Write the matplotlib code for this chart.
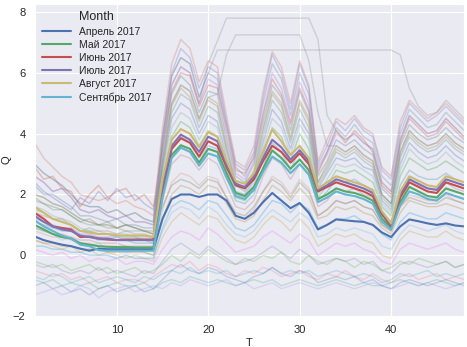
import matplotlib
matplotlib.use("Agg")
import matplotlib.pyplot as plt
import seaborn as sns

# half-hour index
T = list(range(1, 49))

# monthly mean profiles
apr = [0.62, 0.5, 0.42, 0.35, 0.3, 0.22, 0.15, 0.22, 0.2, 0.2, 0.2, 0.2, 0.2, 0.2, 1.2, 1.85, 2.0, 2.0, 1.92, 2.0, 2.0, 1.8, 1.3, 1.2,
       1.4, 1.75, 2.05, 1.8, 1.55, 1.72, 1.4, 0.85, 1.0, 1.18, 1.15, 1.12, 1.1, 1.0, 0.75, 0.6, 0.95, 1.18, 1.12, 1.05, 1.0, 1.05, 0.98, 0.95]
may = [1.0, 0.85, 0.7, 0.6, 0.55, 0.4, 0.35, 0.3, 0.28, 0.27, 0.27, 0.26, 0.26, 0.26, 2.0, 3.3, 3.62, 3.5, 3.05, 3.5, 3.4, 2.7, 2.05, 1.95,
       2.25, 2.85, 3.45, 3.2, 2.85, 3.15, 2.8, 1.85, 2.0, 2.2, 2.1, 2.05, 1.95, 1.8, 1.2, 0.9, 1.75, 2.25, 2.1, 1.95, 1.9, 2.2, 2.1, 2.0]
jun = [1.4, 1.2, 0.95, 0.9, 0.85, 0.6, 0.62, 0.55, 0.52, 0.5, 0.52, 0.52, 0.52, 0.52, 2.2, 3.5, 3.85, 3.7, 3.25, 3.75, 3.6, 2.9, 2.3, 2.2,
       2.5, 3.1, 3.6, 3.4, 3.05, 3.35, 3.0, 2.1, 2.25, 2.4, 2.3, 2.2, 2.1, 1.95, 1.35, 0.95, 1.9, 2.4, 2.25, 2.1, 2.05, 2.4, 2.3, 2.2]
jul = [1.3, 1.1, 0.95, 0.85, 0.8, 0.65, 0.6, 0.55, 0.55, 0.5, 0.5, 0.5, 0.5, 0.5, 2.3, 3.6, 3.97, 3.8, 3.4, 3.9, 3.75, 3.0, 2.35, 2.25,
       2.6, 3.2, 3.8, 3.55, 3.15, 3.45, 3.1, 2.15, 2.3, 2.5, 2.4, 2.3, 2.2, 2.05, 1.4, 1.0, 2.0, 2.5, 2.35, 2.2, 2.15, 2.5, 2.4, 2.3]
aug = [1.6, 1.4, 1.2, 1.1, 1.0, 0.8, 0.75, 0.7, 0.7, 0.65, 0.65, 0.65, 0.65, 0.6, 2.5, 3.8, 4.15, 4.0, 3.55, 4.05, 3.9, 3.1, 2.45, 2.35,
       2.7, 3.4, 4.13, 3.75, 3.3, 3.6, 3.2, 2.2, 2.4, 2.6, 2.5, 2.4, 2.3, 2.15, 1.45, 1.05, 2.1, 2.6, 2.45, 2.3, 2.25, 2.6, 2.5, 2.4]
sep = [1.15, 0.95, 0.8, 0.65, 0.55, 0.35, 0.3, 0.17, 0.15, 0.15, 0.15, 0.15, 0.15, 0.15, 1.9, 3.2, 3.54, 3.4, 2.95, 3.35, 3.25, 2.55, 1.95, 1.85,
       2.15, 2.75, 3.25, 3.05, 2.7, 3.0, 2.65, 1.75, 1.9, 2.1, 2.0, 1.95, 1.85, 1.7, 1.1, 0.85, 1.65, 2.1, 2.0, 1.85, 1.8, 2.05, 1.95, 1.85]

months = ["Апрель 2017", "Май 2017", "Июнь 2017", "Июль 2017", "Август 2017", "Сентябрь 2017"]
month_means = [apr, may, jun, jul, aug, sep]

# individual days, working days with a strong daytime load
high_days = [
    [3.7, 3.2, 2.9, 2.6, 2.4, 2.0, 1.9, 1.8, 1.9, 1.7, 1.8, 1.6, 1.5, 1.3, 4.2, 6.3, 7.1, 6.8, 5.7, 6.4, 6.2, 4.6, 3.1, 2.9,
     3.6, 5.4, 6.7, 6.2, 5.0, 6.4, 5.6, 3.1, 3.8, 4.5, 4.3, 4.6, 4.2, 4.0, 2.9, 2.6, 4.4, 5.1, 4.8, 4.5, 4.7, 5.0, 4.7, 4.4],
    [3.0, 2.7, 2.5, 2.3, 2.0, 1.7, 1.6, 1.6, 1.4, 1.5, 1.3, 1.4, 1.2, 1.1, 3.9, 5.9, 6.5, 6.3, 5.2, 6.0, 5.8, 4.3, 2.9, 2.6,
     3.3, 5.0, 6.3, 5.8, 4.6, 6.0, 5.3, 2.9, 3.4, 4.2, 3.9, 4.3, 3.9, 3.7, 2.6, 2.3, 4.0, 4.8, 4.5, 4.2, 4.3, 4.7, 4.4, 4.1],
    [2.6, 2.4, 2.1, 2.2, 1.9, 1.5, 1.4, 1.5, 1.3, 1.2, 1.3, 1.1, 1.1, 1.0, 3.6, 5.6, 6.2, 6.0, 5.0, 5.8, 5.6, 4.0, 2.7, 2.5,
     3.1, 4.7, 6.0, 5.5, 4.4, 5.7, 5.0, 2.8, 3.3, 4.0, 3.8, 4.0, 3.7, 3.5, 2.4, 2.1, 3.8, 4.6, 4.3, 4.0, 4.1, 4.5, 4.2, 3.9],
    [2.3, 2.0, 2.0, 1.8, 1.6, 1.3, 1.3, 1.2, 1.1, 1.2, 1.0, 1.0, 0.9, 0.9, 3.3, 5.3, 5.9, 5.6, 4.7, 5.4, 5.3, 3.8, 2.6, 2.4,
     3.0, 4.4, 5.6, 5.2, 4.1, 5.4, 4.7, 2.6, 3.1, 3.8, 3.6, 3.8, 3.5, 3.3, 2.2, 1.9, 3.6, 4.3, 4.0, 3.8, 3.9, 4.2, 3.9, 3.7],
    [2.0, 1.9, 1.7, 1.6, 1.4, 1.2, 1.1, 1.0, 1.0, 0.9, 1.0, 0.9, 0.8, 0.7, 3.1, 5.0, 5.6, 5.4, 4.5, 5.2, 5.0, 3.6, 2.4, 2.2,
     2.8, 4.2, 5.4, 5.0, 3.9, 5.1, 4.5, 2.4, 3.0, 3.6, 3.4, 3.6, 3.3, 3.1, 2.0, 1.7, 3.4, 4.1, 3.8, 3.6, 3.7, 4.0, 3.7, 3.5],
    [1.8, 1.7, 1.5, 1.5, 1.3, 1.1, 1.0, 1.0, 0.9, 0.9, 0.8, 0.8, 0.8, 0.7, 2.9, 4.7, 5.3, 5.1, 4.2, 4.9, 4.7, 3.4, 2.3, 2.1,
     2.6, 3.9, 5.1, 4.7, 3.7, 4.8, 4.2, 2.3, 2.8, 3.4, 3.2, 3.4, 3.1, 2.9, 1.9, 1.6, 3.2, 3.9, 3.6, 3.4, 3.5, 3.8, 3.5, 3.3],
    [2.4, 2.1, 1.9, 1.7, 1.5, 1.9, 1.7, 2.1, 1.8, 2.2, 1.9, 2.0, 1.7, 1.5, 2.8, 4.5, 5.0, 4.8, 4.0, 4.6, 4.4, 3.2, 2.1, 2.0,
     2.5, 3.7, 4.8, 4.4, 3.5, 4.5, 4.0, 2.2, 2.7, 3.2, 3.1, 3.2, 2.9, 2.8, 1.8, 1.5, 3.0, 3.7, 3.4, 3.2, 3.3, 3.6, 3.3, 3.1],
    [1.6, 1.5, 1.3, 1.2, 1.1, 0.9, 0.8, 0.8, 0.7, 0.7, 0.7, 0.6, 0.6, 0.6, 2.6, 4.2, 4.7, 4.5, 3.8, 4.4, 4.2, 3.0, 2.0, 1.9,
     2.4, 3.5, 4.5, 4.2, 3.3, 4.3, 3.8, 2.0, 2.5, 3.0, 2.9, 3.0, 2.8, 2.6, 1.7, 1.4, 2.8, 3.5, 3.2, 3.0, 3.1, 3.4, 3.1, 2.9],
    [1.5, 1.4, 1.2, 1.1, 1.0, 0.8, 0.8, 0.7, 0.7, 0.6, 0.6, 0.6, 0.5, 0.5, 2.4, 3.9, 4.4, 4.2, 3.6, 4.1, 3.9, 2.8, 1.9, 1.8,
     2.2, 3.3, 4.2, 3.9, 3.1, 4.0, 3.5, 1.9, 2.3, 2.8, 2.7, 2.8, 2.6, 2.4, 1.6, 1.3, 2.6, 3.2, 3.0, 2.8, 2.9, 3.1, 2.9, 2.7],
    [1.2, 1.1, 1.0, 0.9, 0.9, 0.7, 0.7, 0.6, 0.6, 0.6, 0.5, 0.5, 0.5, 0.4, 3.8, 6.0, 6.8, 6.5, 5.5, 6.2, 6.0, 4.4, 3.0, 2.8,
     3.4, 5.2, 6.6, 6.0, 4.8, 6.3, 5.5, 3.0, 3.6, 4.4, 4.1, 4.5, 4.1, 3.9, 2.8, 2.5, 4.2, 5.0, 4.7, 4.4, 4.6, 4.9, 4.6, 4.3],
    [2.9, 2.5, 2.6, 2.2, 2.1, 1.6, 2.0, 2.3, 1.9, 2.1, 2.2, 1.8, 2.0, 1.6, 3.5, 5.4, 6.0, 5.9, 4.9, 5.6, 5.5, 4.2, 2.8, 2.7,
     3.2, 4.6, 5.8, 5.3, 4.3, 5.5, 4.8, 2.7, 3.4, 4.1, 3.7, 4.1, 3.8, 3.4, 2.3, 2.0, 3.7, 4.5, 4.2, 3.9, 4.0, 4.4, 4.1, 3.8],
    [1.4, 1.3, 1.2, 1.2, 1.0, 0.8, 0.9, 0.8, 0.8, 0.7, 0.8, 0.7, 0.7, 0.6, 3.0, 4.9, 5.5, 5.2, 4.4, 5.1, 4.9, 3.5, 2.4, 2.2,
     2.7, 4.1, 5.3, 4.9, 3.8, 5.0, 4.4, 2.4, 2.9, 3.5, 3.3, 3.5, 3.2, 3.0, 2.0, 1.7, 3.3, 4.0, 3.7, 3.5, 3.6, 3.9, 3.6, 3.4],
]

mid_days = [
    [1.1, 1.0, 0.9, 0.8, 0.8, 0.6, 0.6, 0.5, 0.5, 0.5, 0.5, 0.4, 0.4, 0.4, 2.1, 3.5, 3.9, 3.7, 3.2, 3.6, 3.5, 2.6, 1.8, 1.7,
     2.0, 2.9, 3.7, 3.4, 2.8, 3.5, 3.1, 1.8, 2.1, 2.5, 2.4, 2.5, 2.3, 2.1, 1.4, 1.1, 2.3, 2.8, 2.6, 2.5, 2.5, 2.7, 2.5, 2.4],
    [0.9, 0.8, 0.7, 0.7, 0.6, 0.5, 0.5, 0.4, 0.4, 0.4, 0.3, 0.3, 0.3, 0.3, 1.8, 3.0, 3.3, 3.2, 2.8, 3.2, 3.0, 2.3, 1.6, 1.5,
     1.8, 2.6, 3.2, 3.0, 2.5, 3.0, 2.7, 1.6, 1.8, 2.2, 2.1, 2.2, 2.0, 1.9, 1.3, 1.0, 2.0, 2.5, 2.3, 2.2, 2.2, 2.4, 2.2, 2.1],
    [0.8, 0.7, 0.6, 0.6, 0.5, 0.4, 0.4, 0.3, 0.3, 0.3, 0.3, 0.2, 0.2, 0.2, 1.5, 2.4, 2.7, 2.6, 2.3, 2.6, 2.5, 1.9, 1.3, 1.2,
     1.5, 2.1, 2.6, 2.4, 2.0, 2.5, 2.2, 1.3, 1.5, 1.8, 1.7, 1.8, 1.6, 1.5, 1.0, 0.8, 1.6, 2.0, 1.9, 1.8, 1.8, 2.0, 1.8, 1.7],
    [0.5, 0.4, 0.4, 0.3, 0.3, 0.2, 0.2, 0.2, 0.1, 0.1, 0.1, 0.1, 0.1, 0.0, 1.2, 2.0, 2.3, 2.2, 2.0, 2.3, 2.2, 1.7, 1.2, 1.1,
     1.3, 1.8, 2.3, 2.1, 1.8, 2.2, 1.9, 1.2, 1.3, 1.6, 1.5, 1.6, 1.4, 1.3, 0.9, 0.7, 1.4, 1.8, 1.7, 1.6, 1.6, 1.7, 1.6, 1.5],
    [0.3, 0.3, 0.2, 0.2, 0.1, 0.1, 0.0, 0.0, 0.0, -0.1, 0.0, -0.1, -0.1, -0.1, 0.9, 1.6, 1.8, 1.7, 1.5, 1.8, 1.7, 1.3, 0.9, 0.8,
     1.0, 1.4, 1.8, 1.7, 1.4, 1.7, 1.5, 0.9, 1.0, 1.2, 1.2, 1.3, 1.1, 1.0, 0.7, 0.5, 1.1, 1.4, 1.3, 1.2, 1.2, 1.4, 1.3, 1.2],
    [1.9, 1.7, 1.6, 1.5, 1.3, 1.1, 1.2, 1.0, 1.1, 0.9, 1.0, 0.9, 0.8, 0.8, 1.6, 2.3, 2.5, 2.4, 2.2, 2.5, 2.4, 1.9, 1.4, 1.3,
     1.6, 2.1, 2.5, 2.3, 1.9, 2.4, 2.1, 1.3, 1.5, 1.8, 1.7, 1.8, 1.6, 1.5, 1.0, 0.8, 1.6, 1.9, 1.8, 1.7, 1.7, 1.9, 1.8, 1.7],
]

# weekends and holidays, almost flat
low_days = [
    [-0.5, -0.6, -0.7, -0.6, -0.8, -0.7, -0.9, -0.8, -0.7, -0.9, -0.8, -0.8, -0.9, -0.7, -0.5, -0.3, -0.4, -0.2, -0.5, -0.3, -0.4, -0.6, -0.7, -0.5,
     -0.6, -0.4, -0.5, -0.7, -0.6, -0.5, -0.7, -0.8, -0.6, -0.7, -0.5, -0.7, -0.8, -0.6, -0.8, -0.9, -0.7, -0.6, -0.8, -0.7, -0.6, -0.8, -0.7, -0.8],
    [-0.8, -0.9, -0.8, -1.0, -0.9, -1.0, -0.9, -1.1, -1.0, -0.9, -1.0, -1.0, -0.9, -1.1, -0.9, -0.8, -0.9, -0.7, -0.8, -0.9, -0.8, -0.9, -1.0, -0.9,
     -0.8, -0.9, -0.8, -1.0, -0.9, -0.8, -0.9, -1.0, -0.9, -0.8, -0.9, -1.0, -0.9, -1.0, -1.0, -0.9, -0.8, -0.9, -1.0, -0.9, -0.8, -0.9, -1.0, -0.9],
    [0.2, 0.1, 0.0, 0.1, -0.1, 0.0, -0.2, -0.1, -0.2, -0.1, -0.3, -0.2, -0.2, -0.3, 0.2, 0.6, 0.8, 0.7, 0.5, 0.9, 0.7, 0.4, 0.1, 0.2,
     0.3, 0.6, 0.8, 0.6, 0.4, 0.7, 0.5, 0.0, 0.2, 0.4, 0.3, 0.4, 0.2, 0.1, -0.2, -0.3, 0.2, 0.4, 0.3, 0.2, 0.3, 0.4, 0.2, 0.1],
    [-0.3, -0.4, -0.3, -0.5, -0.6, -0.5, -0.6, -0.4, -0.6, -0.5, -0.6, -0.7, -0.5, -0.6, -0.2, 0.2, 0.4, 0.2, 0.0, 0.3, 0.1, -0.1, -0.3, -0.2,
     -0.1, 0.1, 0.3, 0.1, -0.1, 0.2, 0.0, -0.3, -0.2, -0.1, -0.2, -0.1, -0.3, -0.2, -0.5, -0.6, -0.3, -0.2, -0.3, -0.4, -0.3, -0.2, -0.4, -0.3],
    [0.5, 0.4, 0.3, 0.2, 0.3, 0.1, 0.2, 0.0, 0.1, 0.0, -0.1, 0.0, -0.1, -0.2, 0.6, 1.1, 1.4, 1.2, 1.0, 1.3, 1.2, 0.8, 0.5, 0.4,
     0.6, 1.0, 1.3, 1.1, 0.8, 1.2, 0.9, 0.3, 0.5, 0.7, 0.6, 0.7, 0.5, 0.4, 0.0, -0.1, 0.5, 0.8, 0.7, 0.6, 0.6, 0.8, 0.6, 0.5],
    [-0.7, -0.8, -0.6, -0.7, -0.9, -0.8, -0.7, -0.9, -0.8, -0.7, -0.8, -0.9, -0.7, -0.8, -0.6, -0.5, -0.6, -0.4, -0.6, -0.5, -0.6, -0.5, -0.7, -0.6,
     -0.5, -0.6, -0.4, -0.6, -0.5, -0.6, -0.5, -0.7, -0.6, -0.5, -0.6, -0.7, -0.6, -0.7, -0.9, -0.8, -0.6, -0.7, -0.6, -0.5, -0.7, -0.6, -0.7, -0.6],
    [-1.0, -0.9, -1.1, -1.0, -1.2, -1.1, -1.3, -1.1, -1.0, -1.2, -1.1, -1.0, -1.2, -1.1, -0.8, -0.5, -0.3, -0.5, -0.6, -0.4, -0.5, -0.7, -0.8, -0.9,
     -0.7, -0.6, -0.4, -0.6, -0.7, -0.5, -0.6, -0.9, -0.8, -0.7, -0.8, -0.7, -0.9, -0.8, -1.0, -1.1, -0.9, -0.8, -0.9, -1.0, -0.9, -0.8, -0.9, -1.0],
    [0.9, 0.8, 0.7, 0.5, 0.6, 0.4, 0.3, 0.4, 0.2, 0.3, 0.1, 0.2, 0.1, 0.0, 0.8, 1.4, 1.6, 1.5, 1.2, 1.6, 1.4, 1.0, 0.7, 0.6,
     0.8, 1.2, 1.5, 1.3, 1.1, 1.4, 1.2, 0.6, 0.7, 0.9, 0.8, 0.9, 0.8, 0.7, 0.3, 0.2, 0.7, 1.0, 0.9, 0.8, 0.9, 1.0, 0.8, 0.7],
    [-0.2, -0.3, -0.4, -0.3, -0.5, -0.4, -0.3, -0.5, -0.4, -0.6, -0.5, -0.4, -0.6, -0.5, -0.3, 0.0, -0.2, 0.1, -0.1, 0.2, 0.0, -0.2, -0.3, -0.1,
     -0.2, 0.0, -0.1, 0.1, -0.2, -0.3, 0.0, -0.2, -0.3, -0.1, -0.2, -0.4, -0.2, -0.3, -0.5, -0.4, -0.2, -0.3, -0.1, -0.2, -0.3, -0.2, -0.4, -0.3],
    [-1.3, -1.2, -1.1, -1.3, -1.2, -1.0, -1.1, -1.4, -1.2, -1.1, -1.0, -1.2, -1.1, -1.0, -1.1, -0.9, -1.0, -0.8, -0.9, -1.0, -0.9, -0.8, -1.0, -0.9,
     -1.1, -1.0, -0.9, -1.1, -1.0, -0.9, -1.0, -1.1, -1.0, -0.9, -1.0, -1.1, -1.0, -0.9, -1.0, -1.1, -1.0, -0.9, -1.0, -0.9, -1.0, -1.1, -1.0, -0.9],
]

# days with gaps in the record (flat stretches)
odd_days = [
    [2.6, 2.4, 2.1, 2.2, 1.9, 1.5, 1.4, 1.5, 1.3, 1.2, 1.3, 1.1, 1.1, 1.0, 3.6, 5.6, 6.2, 6.0, 5.0, 6.3, 7.05, 7.8, 7.8, 7.8,
     7.8, 7.8, 7.8, 7.8, 7.8, 7.8, 7.8, 7.1, 4.6, 4.1, 3.8, 4.0, 3.7, 3.5, 2.4, 2.1, 3.8, 4.6, 4.3, 4.0, 4.1, 4.5, 4.2, 3.9],
    [2.0, 1.9, 1.7, 1.6, 1.4, 1.2, 1.1, 1.0, 1.0, 0.9, 1.0, 0.9, 0.8, 0.7, 3.1, 5.0, 5.6, 5.4, 4.5, 5.2, 5.3, 6.6, 7.25, 7.25,
     7.25, 7.25, 7.25, 7.25, 7.25, 7.25, 6.4, 4.7, 3.6, 3.6, 3.4, 3.6, 3.3, 3.1, 2.0, 1.7, 3.4, 4.1, 3.8, 3.6, 3.7, 4.0, 3.7, 3.5],
    [3.0, 2.7, 2.5, 2.3, 2.0, 1.7, 1.6, 1.6, 1.4, 1.5, 1.3, 1.4, 1.2, 1.1, 3.9, 5.9, 6.5, 6.3, 5.2, 6.0, 6.75, 6.75, 6.75, 6.75,
     6.75, 6.75, 6.75, 6.75, 6.75, 6.75, 6.75, 6.75, 6.75, 6.75, 6.75, 6.75, 6.75, 6.75, 6.75, 6.75, 6.6, 5.5, 4.9, 4.6, 4.7, 5.1, 4.8, 4.5],
]

sns.set_style("darkgrid")
plt.rcParams['font.family'] = ['Liberation Sans', 'DejaVu Sans']

deep = sns.color_palette("deep6")
faint = sns.color_palette("husl", 12) + deep

fig = plt.figure(figsize=(4.67, 3.47), dpi=100)
ax = fig.add_axes([0.074, 0.089, 0.92, 0.899])

for i, day in enumerate(high_days + mid_days + low_days):
    ax.plot(T, day, color=faint[(i * 5) % len(faint)], alpha=0.25, lw=1.0)
# second pass with shifted colours gives the dense band its mix
for i, day in enumerate(high_days + mid_days):
    ax.plot(T, day, color=faint[(i * 7 + 3) % len(faint)], alpha=0.12, lw=1.0)
for day in odd_days:
    ax.plot(T, day, color="#8c8c99", alpha=0.3, lw=1.0)

for name, vals, c in zip(months, month_means, deep):
    ax.plot(T, vals, color=c, lw=1.5, label=name)

ax.set_xlim(1, 48)
ax.set_ylim(-2, 8.26)
ax.set_xticks([10, 20, 30, 40])
ax.set_yticks([-2, 0, 2, 4, 6, 8])
ax.tick_params(labelsize=8, pad=3)
ax.set_xlabel("T", fontsize=8, labelpad=2)
ax.set_ylabel("Q", fontsize=8, labelpad=1)

leg = ax.legend(title="Month", loc="upper left", fontsize=7.5, title_fontsize=9,
                frameon=False, handlelength=2.8, labelspacing=0.3,
                borderaxespad=0.3)

fig.savefig("out.png", dpi=100)
